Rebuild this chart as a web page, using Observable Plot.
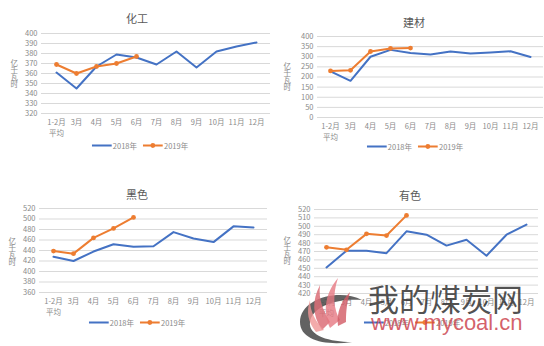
<!DOCTYPE html>
<html>
<head>
<meta charset="utf-8">
<script src="https://cdn.jsdelivr.net/npm/d3@7"></script>
<script src="https://cdn.jsdelivr.net/npm/@observablehq/plot@0.6"></script>
<style>
  html, body { margin: 0; padding: 0; background: #fff; }
  #root { position: relative; width: 544px; height: 346px; overflow: hidden; font-family: "Noto Sans CJK SC", "Noto Sans", sans-serif; }
  .pan { position: absolute; }
  .title { position: absolute; font-size: 11px; color: #595959; transform: translate(-50%, -50%); white-space: nowrap; }
  .ylab { position: absolute; font-size: 7.5px; color: #8a8a8a; writing-mode: vertical-rl; text-orientation: upright; line-height: 1; transform: translate(-50%, -50%); letter-spacing: -0.5px; }
  .legend { position: absolute; display: flex; align-items: center; font-size: 7.5px; color: #8a8a8a; transform: translate(-50%, -50%); white-space: nowrap; }
  .legend svg { display: block; }
  .wm1 { position: absolute; font-size: 31px; color: rgba(50,50,50,0.85); left: 368px; top: 282px; line-height: 1; white-space: nowrap; }
  .wm2 { position: absolute; font-size: 22px; color: rgba(205,70,80,0.85); left: 371px; top: 312px; line-height: 1; white-space: nowrap; font-family: "Liberation Sans", Arial, sans-serif; }
</style>
</head>
<body>
<div id="root"></div>
<script>
const months = ["1-2月\n平均", "3月", "4月", "5月", "6月", "7月", "8月", "9月", "10月", "11月", "12月"];
const seriesNames = ["2018年", "2019年"];

const chem2018 = [361, 345, 367, 379, 376, 369, 382, 366, 382, 387, 391];
const chem2019 = [369, 360, 367, 370, 377];
const build2018 = [228, 181, 300, 334, 319, 311, 326, 316, 321, 327, 299];
const build2019 = [230, 233, 326, 341, 343];
const ferrous2018 = [428, 420, 438, 452, 447, 448, 475, 463, 456, 486, 484];
const ferrous2019 = [439, 434, 464, 482, 503];
const nonfer2018 = [451, 471, 471, 468, 494, 490, 477, 484, 465, 490, 502];
const nonfer2019 = [475, 472, 491, 489, 513];

const chemTicks = [320, 330, 340, 350, 360, 370, 380, 390, 400];
const buildTicks = [0, 50, 100, 150, 200, 250, 300, 350, 400];
const ferrousTicks = [360, 380, 400, 420, 440, 460, 480, 500, 520];
const nonferTicks = [420, 430, 440, 450, 460, 470, 480, 490, 500, 510, 520];

const BLUE = "#4472C4", ORANGE = "#ED7D31";
const root = document.getElementById("root");

function toRows(vals) { return vals.map((v, i) => ({month: months[i], value: v})); }

function panel(cfg) {
  const a = toRows(cfg.s2018), b = toRows(cfg.s2019);
  const svg = Plot.plot({
    width: 272, height: cfg.height,
    marginTop: cfg.mt, marginBottom: cfg.mb, marginLeft: cfg.ml, marginRight: cfg.mr,
    style: {fontSize: "7.5px", fontFamily: '"Noto Sans CJK SC", sans-serif', color: "#8a8a8a", background: "transparent", overflow: "visible"},
    x: {type: "point", domain: months, padding: 0.5, axis: null},
    y: {domain: [cfg.ticks[0], cfg.ticks[cfg.ticks.length - 1]], axis: null},
    marks: [
      Plot.ruleY(cfg.ticks, {stroke: "#d9d9d9", strokeWidth: 1}),
      Plot.axisY(cfg.ticks, {tickSize: 0, tickPadding: 4, fill: "#8a8a8a", label: null}),
      Plot.axisX({tickSize: 0, tickPadding: 4, lineHeight: 1.45, fill: "#8a8a8a", label: null}),
      Plot.line(a, {x: "month", y: "value", stroke: BLUE, strokeWidth: 2}),
      Plot.line(b, {x: "month", y: "value", stroke: ORANGE, strokeWidth: 2}),
      Plot.dot(b, {x: "month", y: "value", fill: ORANGE, r: 2.4})
    ]
  });
  const box = document.createElement("div");
  box.className = "pan";
  box.style.left = cfg.left + "px";
  box.style.top = cfg.top + "px";
  box.appendChild(svg);
  root.appendChild(box);

  const t = document.createElement("div");
  t.className = "title"; t.textContent = cfg.title;
  t.style.left = cfg.tx + "px"; t.style.top = cfg.ty + "px";
  root.appendChild(t);

  const yl = document.createElement("div");
  yl.className = "ylab"; yl.textContent = "亿千瓦时";
  yl.style.left = cfg.yx + "px"; yl.style.top = cfg.yy + "px";
  root.appendChild(yl);

  const lg = document.createElement("div");
  lg.className = "legend";
  lg.style.left = cfg.lx + "px"; lg.style.top = cfg.ly + "px";
  lg.innerHTML =
    `<svg width="20" height="8"><line x1="0" x2="20" y1="4" y2="4" stroke="${BLUE}" stroke-width="2"/></svg>` +
    `<span style="margin-left:1px">${seriesNames[0]}</span>` +
    `<svg width="20" height="8" style="margin-left:6px"><line x1="0" x2="20" y1="4" y2="4" stroke="${ORANGE}" stroke-width="2"/><circle cx="10" cy="4" r="2.4" fill="${ORANGE}"/></svg>` +
    `<span style="margin-left:1px">${seriesNames[1]}</span>`;
  root.appendChild(lg);
}

panel({title: "化工", s2018: chem2018, s2019: chem2019, ticks: chemTicks,
  left: 0, top: 0, height: 173, mt: 33, mb: 60, ml: 41, mr: 2,
  tx: 137, ty: 18, yx: 14, yy: 73, lx: 140, ly: 145});
panel({title: "建材", s2018: build2018, s2019: build2019, ticks: buildTicks,
  left: 272, top: 0, height: 173, mt: 36, mb: 56, ml: 45, mr: 1,
  tx: 414, ty: 22, yx: 287, yy: 76, lx: 415, ly: 146});
panel({title: "黑色", s2018: ferrous2018, s2019: ferrous2019, ticks: ferrousTicks,
  left: 0, top: 175, height: 171, mt: 33, mb: 54, ml: 39, mr: 5,
  tx: 137, ty: 194, yx: 12, yy: 251, lx: 137, ly: 322});
panel({title: "有色", s2018: nonfer2018, s2019: nonfer2019, ticks: nonferTicks,
  left: 272, top: 175, height: 171, mt: 34, mb: 53, ml: 42, mr: 6,
  tx: 410, ty: 195, yx: 287, yy: 250, lx: 412, ly: 322});

// watermark overlay
const logo = document.createElementNS("http://www.w3.org/2000/svg", "svg");
logo.setAttribute("width", "544"); logo.setAttribute("height", "346");
logo.style.position = "absolute"; logo.style.left = "0"; logo.style.top = "0";
logo.innerHTML = `
  <path d="M362,300 C340,288 300,298 300,322 C300,340 325,346 352,342 C330,342 308,336 310,322 C312,306 338,298 362,300 Z" fill="rgba(70,70,70,0.85)"/>
  <path d="M322,330 C312,315 312,300 320,285 C318,300 324,312 330,322 Z" fill="rgba(220,110,120,0.85)"/>
  <path d="M330,328 C322,310 326,292 338,278 C332,296 334,310 340,320 Z" fill="rgba(230,120,130,0.8)"/>
  <path d="M338,326 C336,312 342,300 350,292 C346,306 346,316 346,322 Z" fill="rgba(210,90,100,0.8)"/>
  <path d="M316,332 C308,322 306,312 310,300 C310,312 316,322 324,330 Z" fill="rgba(240,150,150,0.8)"/>`;
root.appendChild(logo);
const w1 = document.createElement("div"); w1.className = "wm1"; w1.textContent = "我的煤炭网"; root.appendChild(w1);
const w2 = document.createElement("div"); w2.className = "wm2"; w2.textContent = "www.mycoal.cn"; root.appendChild(w2);
</script>
</body>
</html>
